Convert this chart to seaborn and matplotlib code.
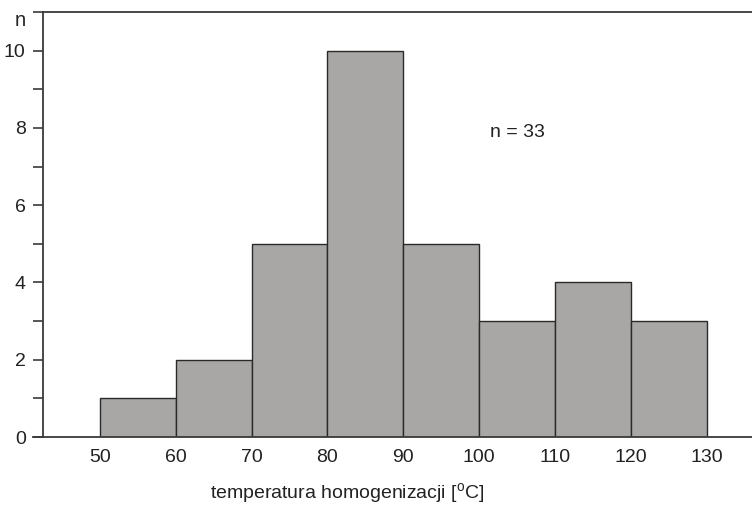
import matplotlib
matplotlib.use("Agg")
import matplotlib.pyplot as plt
import seaborn as sns
import numpy as np

# Data
bin_edges = [50, 60, 70, 80, 90, 100, 110, 120, 130]
counts = [1, 2, 5, 10, 5, 3, 4, 3]
x_tick_labels = ["50", "60", "70", "80", "90", "100", "110", "120", "130"]
y_tick_labels = ["0", "2", "4", "6", "8", "10"]
xlabel = r"temperatura homogenizacji [$^{\mathrm{o}}$C]"
ylabel = "n"
annotation = "n = 33"

sns.set_style("white")
plt.rcParams["font.family"] = ["Liberation Sans", "DejaVu Sans"]
plt.rcParams["mathtext.fontset"] = "custom"
plt.rcParams["mathtext.rm"] = "Liberation Sans"
plt.rcParams["mathtext.it"] = "Liberation Sans:italic"

FS = 14
fig = plt.figure(figsize=(7.52, 5.05), dpi=100)
ax = fig.add_axes([43 / 752, (505 - 437) / 505, 1 - 43 / 752, (437 - 12) / 505])

centers = [(a + b) / 2 for a, b in zip(bin_edges[:-1], bin_edges[1:])]
sns.histplot(x=centers, weights=counts, bins=bin_edges, ax=ax,
             color="#a9a7a5", edgecolor="#2a2a2a", linewidth=1.0, alpha=1.0)

ax.set_xlim(42.5, 136)
ax.set_ylim(0, 11)

ax.set_xticks(bin_edges)
ax.set_xticklabels(x_tick_labels)
ax.set_yticks([0, 2, 4, 6, 8, 10])
ax.set_yticklabels(y_tick_labels)
ax.set_yticks([1, 3, 5, 7, 9, 11], minor=True)

ax.tick_params(axis="x", length=0, pad=9, labelsize=FS, colors="#222222")
ax.tick_params(axis="y", which="both", length=7, width=1.2, direction="out",
               pad=5.5, labelsize=FS, colors="#222222", left=True)
ax.tick_params(axis="y", which="both", color="#3a3a3a")

for s in ["left", "bottom", "top"]:
    ax.spines[s].set_visible(True)
    ax.spines[s].set_color("#3a3a3a")
    ax.spines[s].set_linewidth(1.3)
ax.spines["right"].set_visible(False)
ax.spines["bottom"].set_bounds(41.2, 136)

ax.set_xlabel("")
ax.set_ylabel("")

ax.text(105.1, 7.88, annotation, ha="center", va="center", fontsize=FS, color="#222222")
fig.text(347 / 752, (505 - 493) / 505, xlabel, ha="center", va="center",
         fontsize=FS, color="#222222")
fig.text(20 / 752, (505 - 21) / 505, ylabel, ha="center", va="center",
         fontsize=FS + 0.5, color="#222222")

fig.savefig("out.png", dpi=100)
